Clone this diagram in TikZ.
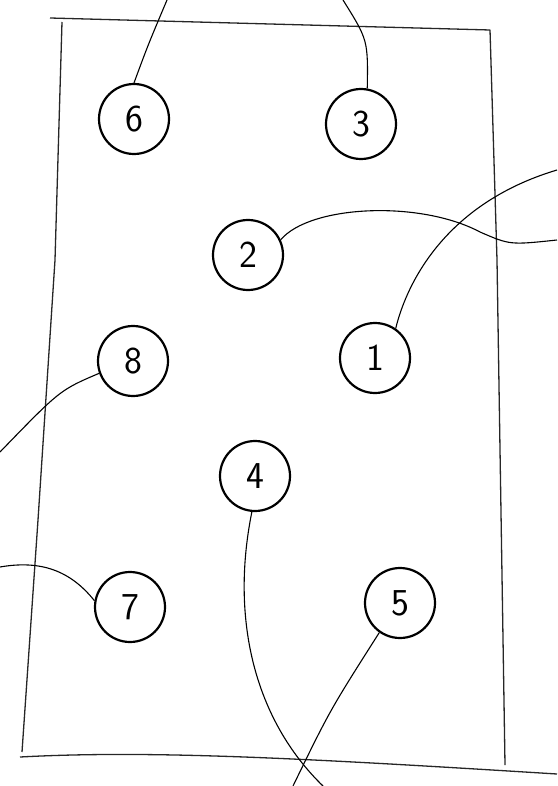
\documentclass[tikz,border=0pt]{standalone}
\usepackage{tikz}
\usetikzlibrary{positioning}

\begin{document}
\begin{tikzpicture}[x=1pt, y=-1pt,
    pin/.style={draw, circle, line width=2.2pt, minimum size=70pt, inner sep=0pt, font=\sffamily\fontsize{38}{40}\selectfont},
    wire/.style={line width=1.1pt},
    frame/.style={line width=1.3pt, black!85, line join=round},
]
    \useasboundingbox (0,0) rectangle (557,786);

    % Frame
    \draw[frame] (50,18) -- (490,30) -- (497,260) -- (505,765);
    \draw[frame] (62,22) -- (55,260) -- (38,520) -- (22,752);
    \draw[frame] (20,757) .. controls (150,750) and (300,758) .. (557,774);

    % Pins
    \node[pin] (p6) at (134,119) {6};
    \node[pin] (p3) at (361,124) {3};
    \node[pin] (p2) at (248,255) {2};
    \node[pin] (p8) at (133,361) {8};
    \node[pin] (p1) at (375,358) {1};
    \node[pin] (p4) at (255,476) {4};
    \node[pin] (p7) at (130,607) {7};
    \node[pin] (p5) at (400,603) {5};

    % Loose ends
    \coordinate (e6) at (167,0);
    \coordinate (e3) at (343,0);
    \coordinate (e2) at (557,240);
    \coordinate (e1) at (557,170);
    \coordinate (e8) at (0,452);
    \coordinate (e7) at (0,567);
    \coordinate (e4) at (323,786);
    \coordinate (e5) at (293,786);

    % Wires
    \draw[wire] (p6.north) .. controls (148,45) .. (e6);
    \draw[wire] (p3.80) .. controls (368,40) .. (e3);
    \draw[wire] (p2.25) .. controls (310,205) and (420,200) .. (480,232) .. controls (510,245) .. (e2);
    \draw[wire] (p1.55) .. controls (405,290) and (440,205) .. (e1);
    \draw[wire] (p8.200) .. controls (60,390) .. (e8);
    \draw[wire] (p7.170) .. controls (70,570) and (40,560) .. (e7);
    \draw[wire] (p4.265) .. controls (230,620) and (255,720) .. (e4);
    \draw[wire] (p5.235) .. controls (330,710) .. (e5);
\end{tikzpicture}
\end{document}
